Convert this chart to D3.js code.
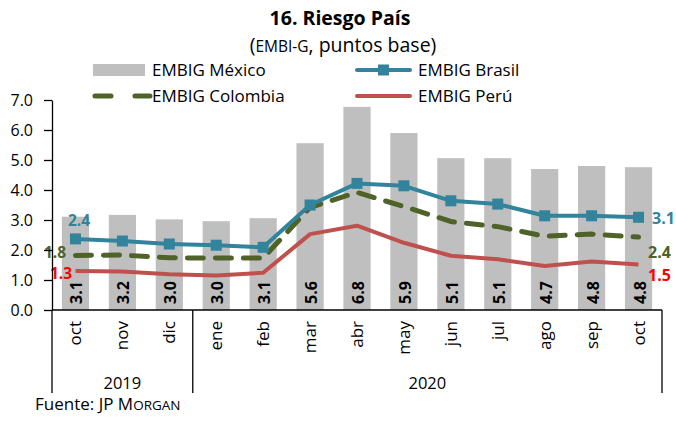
<!DOCTYPE html>
<html>
<head>
<meta charset="utf-8">
<script src="https://cdn.jsdelivr.net/npm/d3@7"></script>
<style>
  body { margin: 0; background: #fff; }
  text { font-family: "Open Sans", Lato, sans-serif; fill: #000; }
</style>
</head>
<body>
<div id="chart"></div>
<script>
// data
const months = ["oct", "nov", "dic", "ene", "feb", "mar", "abr", "may", "jun", "jul", "ago", "sep", "oct"];
const years = [{ label: "2019", from: 0, to: 2 }, { label: "2020", from: 3, to: 12 }];
const mexico = [3.11, 3.17, 3.02, 2.96, 3.06, 5.56, 6.77, 5.9, 5.06, 5.06, 4.7, 4.8, 4.76];
const brasil = [2.37, 2.3, 2.2, 2.16, 2.09, 3.5, 4.22, 4.14, 3.64, 3.53, 3.14, 3.14, 3.09];
const colombia = [1.82, 1.83, 1.74, 1.73, 1.73, 3.42, 3.92, 3.45, 2.95, 2.78, 2.46, 2.53, 2.43];
const peru = [1.3, 1.28, 1.19, 1.15, 1.24, 2.53, 2.81, 2.24, 1.81, 1.69, 1.47, 1.62, 1.52];
const yTicks = [0, 1, 2, 3, 4, 5, 6, 7];

const W = 676, H = 421;
const svg = d3.select("#chart").append("svg")
    .attr("width", W)
    .attr("height", H);

const x = d3.scaleBand()
    .domain(d3.range(months.length))
    .range([52, 662])
    .paddingInner(0.42)
    .paddingOuter(0.21);
const y = d3.scaleLinear().domain([0, 7]).range([310, 100]);

const cx = i => x(i) + x.bandwidth() / 2;

// title
svg.append("text")
    .attr("x", 340).attr("y", 25)
    .attr("text-anchor", "middle")
    .style("font-size", "19.5px").style("font-weight", "bold")
    .text("16. Riesgo País");
const sub = svg.append("text")
    .attr("x", 343).attr("y", 52)
    .attr("text-anchor", "middle")
    .style("font-size", "19.5px");
sub.append("tspan").text("(");
sub.append("tspan").style("font-size", "15.5px").text("EMBI-G");
sub.append("tspan").text(", puntos base)");

// bars mexico
svg.append("g").selectAll("rect")
    .data(mexico)
    .join("rect")
    .attr("x", (d, i) => x(i))
    .attr("y", d => y(d))
    .attr("width", x.bandwidth())
    .attr("height", d => y(0) - y(d))
    .attr("fill", "#bfbfbf");

// bar labels
svg.append("g").selectAll("text")
    .data(mexico)
    .join("text")
    .attr("transform", (d, i) => `translate(${cx(i) + 7},${y(0) - 6}) rotate(-90)`)
    .style("font-size", "16px").style("font-weight", "bold")
    .text(d => d.toFixed(1));

// lines
const line = d3.line().x((d, i) => cx(i)).y(d => y(d));

svg.append("path")
    .datum(peru)
    .attr("d", line)
    .attr("fill", "none")
    .attr("stroke", "#c0504d")
    .attr("stroke-width", 4)
    .attr("stroke-linejoin", "round");

svg.append("path")
    .datum(colombia)
    .attr("d", line)
    .attr("fill", "none")
    .attr("stroke", "#4f6228")
    .attr("stroke-width", 5)
    .attr("stroke-dasharray", "16,12")
    .attr("stroke-linecap", "round");

svg.append("path")
    .datum(brasil)
    .attr("d", line)
    .attr("fill", "none")
    .attr("stroke", "#31849b")
    .attr("stroke-width", 4)
    .attr("stroke-linejoin", "round");

svg.append("g").selectAll("rect")
    .data(brasil)
    .join("rect")
    .attr("x", (d, i) => cx(i) - 5.5)
    .attr("y", d => y(d) - 5.5)
    .attr("width", 11).attr("height", 11)
    .attr("fill", "#31849b");

// start / end labels
const ends = [
    { v: brasil, c: "#31849b", sx: 79, sy: 226, ex: 652, ey: 224 },
    { v: colombia, c: "#4f6228", sx: 55, sy: 258, ex: 648, ey: 258 },
    { v: peru, c: "#ff0000", sx: 61, sy: 279, ex: 648, ey: 281 }
];
ends.forEach(e => {
    svg.append("text")
        .attr("x", e.sx).attr("y", e.sy)
        .attr("text-anchor", "middle")
        .style("font-size", "15.5px").style("font-weight", "bold")
        .style("fill", e.c)
        .text(e.v[0].toFixed(1));
    svg.append("text")
        .attr("x", e.ex).attr("y", e.ey)
        .style("font-size", "16px").style("font-weight", "bold")
        .style("fill", e.c)
        .text(e.v[e.v.length - 1].toFixed(1));
});

// y axis
const yAxis = svg.append("g")
    .attr("transform", "translate(52,0)")
    .call(d3.axisLeft(y).tickValues(yTicks).tickFormat(d3.format(".1f")).tickSize(8).tickSizeOuter(0));
yAxis.select(".domain").attr("stroke", "#000").attr("stroke-width", 1.3);
yAxis.selectAll(".tick line").attr("stroke", "#000").attr("stroke-width", 1.3);
yAxis.selectAll(".tick text")
    .attr("x", -19)
    .style("font-size", "16px")
    .style("font-family", "'Open Sans', Lato, sans-serif");

// category axis
const xg = svg.append("g");
xg.append("line")
    .attr("x1", 52).attr("x2", 662)
    .attr("y1", y(0)).attr("y2", y(0))
    .attr("stroke", "#000").attr("stroke-width", 1.3);

const seps = [x.range()[0]].concat(years.map(yr => x(yr.to) + x.bandwidth() + x.step() * x.paddingInner() / 2));
seps[seps.length - 1] = x.range()[1];
xg.selectAll(".sep")
    .data(seps)
    .join("line")
    .attr("x1", d => d).attr("x2", d => d)
    .attr("y1", y(0)).attr("y2", 393)
    .attr("stroke", "#000").attr("stroke-width", 1.3);

xg.selectAll(".mon")
    .data(months)
    .join("text")
    .attr("transform", (d, i) => `translate(${cx(i) + 6},321) rotate(-90)`)
    .attr("text-anchor", "end")
    .style("font-size", "17px")
    .text(d => d);

xg.selectAll(".yr")
    .data(years)
    .join("text")
    .attr("x", d => (x(d.from) + x(d.to) + x.bandwidth()) / 2)
    .attr("y", 389)
    .attr("text-anchor", "middle")
    .style("font-size", "16.5px")
    .text(d => d.label);

// legend
const leg = svg.append("g");
leg.append("rect").attr("x", 93).attr("y", 64).attr("width", 52).attr("height", 12).attr("fill", "#bfbfbf");
leg.append("text").attr("x", 152).attr("y", 76).style("font-size", "17px").text("EMBIG México");

leg.append("line").attr("x1", 357).attr("x2", 410).attr("y1", 70).attr("y2", 70)
    .attr("stroke", "#31849b").attr("stroke-width", 4).attr("stroke-linecap", "round");
leg.append("rect").attr("x", 378).attr("y", 64.5).attr("width", 11).attr("height", 11).attr("fill", "#31849b");
leg.append("text").attr("x", 418).attr("y", 76).style("font-size", "17px").text("EMBIG Brasil");

leg.append("line").attr("x1", 95).attr("x2", 150).attr("y1", 96).attr("y2", 96)
    .attr("stroke", "#4f6228").attr("stroke-width", 5).attr("stroke-dasharray", "16,24")
    .attr("stroke-linecap", "round");
leg.append("text").attr("x", 152).attr("y", 102).style("font-size", "17px").text("EMBIG Colombia");

leg.append("line").attr("x1", 357).attr("x2", 410).attr("y1", 96).attr("y2", 96)
    .attr("stroke", "#c0504d").attr("stroke-width", 4).attr("stroke-linecap", "round");
leg.append("text").attr("x", 418).attr("y", 102).style("font-size", "17px").text("EMBIG Perú");

// source
const src = svg.append("text")
    .attr("x", 35).attr("y", 410)
    .style("font-size", "17px");
src.append("tspan").text("Fuente: JP M");
src.append("tspan").style("font-size", "13.5px").text("ORGAN");
</script>
</body>
</html>
